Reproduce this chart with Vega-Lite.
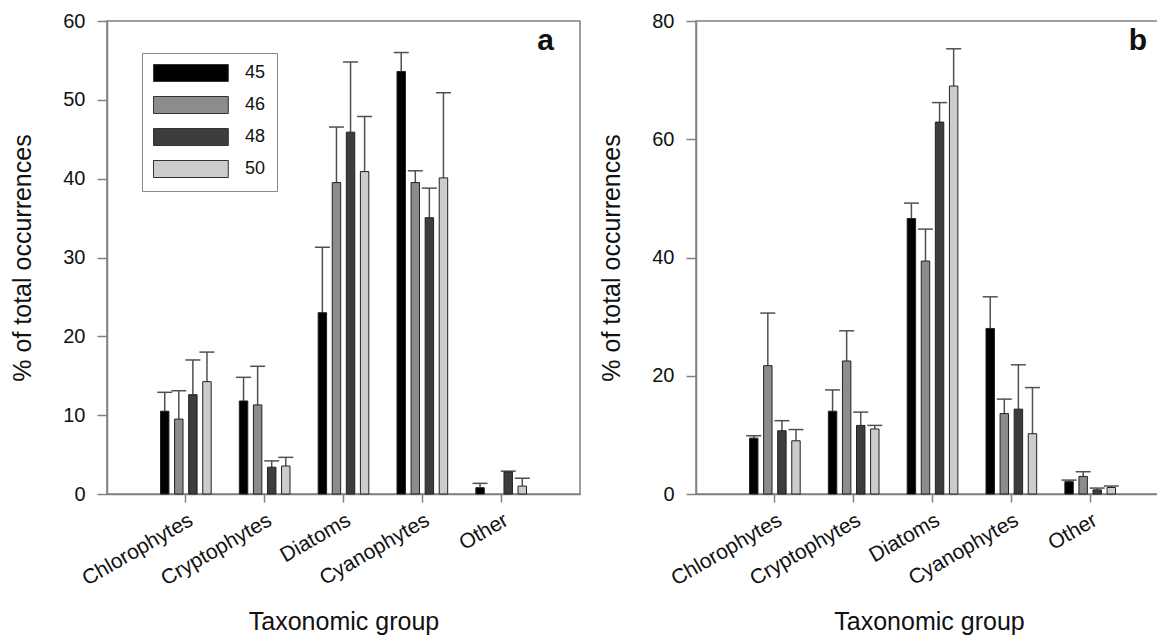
{
  "$schema": "https://vega.github.io/schema/vega-lite/v6.json",
  "padding": {"left": 10, "top": 10, "right": 0, "bottom": 0},
  "background": "white",
  "config": {
    "font": "Liberation Sans",
    "view": {"stroke": "#808080", "strokeWidth": 1.5},
    "axis": {"domainColor": "#808080", "domainWidth": 1.5, "tickColor": "#808080", "tickWidth": 1.5, "tickSize": 10, "labelFont": "Liberation Sans", "labelFontSize": 20, "labelColor": "#111111", "titleFont": "Liberation Sans", "titleFontSize": 25, "titleFontWeight": "normal", "titleColor": "#111111", "grid": false, "labelPadding": 12},
    "concat": {"spacing": 18}
  },
  "datasets": {
    "a": [
      {"group": "Chlorophytes", "series": "45", "value": 10.5, "upper": 12.9},
      {"group": "Chlorophytes", "series": "46", "value": 9.5, "upper": 13.1},
      {"group": "Chlorophytes", "series": "48", "value": 12.6, "upper": 17.0},
      {"group": "Chlorophytes", "series": "50", "value": 14.25, "upper": 18.0},
      {"group": "Cryptophytes", "series": "45", "value": 11.8, "upper": 14.8},
      {"group": "Cryptophytes", "series": "46", "value": 11.3, "upper": 16.2},
      {"group": "Cryptophytes", "series": "48", "value": 3.4, "upper": 4.2},
      {"group": "Cryptophytes", "series": "50", "value": 3.55, "upper": 4.65},
      {"group": "Diatoms", "series": "45", "value": 23.0, "upper": 31.3},
      {"group": "Diatoms", "series": "46", "value": 39.5, "upper": 46.55},
      {"group": "Diatoms", "series": "48", "value": 45.9, "upper": 54.8},
      {"group": "Diatoms", "series": "50", "value": 40.9, "upper": 47.9},
      {"group": "Cyanophytes", "series": "45", "value": 53.6, "upper": 56.0},
      {"group": "Cyanophytes", "series": "46", "value": 39.5, "upper": 41.0},
      {"group": "Cyanophytes", "series": "48", "value": 35.05, "upper": 38.8},
      {"group": "Cyanophytes", "series": "50", "value": 40.1, "upper": 50.9},
      {"group": "Other", "series": "45", "value": 0.8, "upper": 1.35},
      {"group": "Other", "series": "48", "value": 2.8, "upper": 2.9},
      {"group": "Other", "series": "50", "value": 1.0, "upper": 2.0}
    ],
    "b": [
      {"group": "Chlorophytes", "series": "45", "value": 9.45, "upper": 9.85},
      {"group": "Chlorophytes", "series": "46", "value": 21.7, "upper": 30.6},
      {"group": "Chlorophytes", "series": "48", "value": 10.7, "upper": 12.4},
      {"group": "Chlorophytes", "series": "50", "value": 9.0, "upper": 10.9},
      {"group": "Cryptophytes", "series": "45", "value": 14.0, "upper": 17.6},
      {"group": "Cryptophytes", "series": "46", "value": 22.5, "upper": 27.6},
      {"group": "Cryptophytes", "series": "48", "value": 11.6, "upper": 13.85},
      {"group": "Cryptophytes", "series": "50", "value": 11.0, "upper": 11.6},
      {"group": "Diatoms", "series": "45", "value": 46.6, "upper": 49.2},
      {"group": "Diatoms", "series": "46", "value": 39.4, "upper": 44.8},
      {"group": "Diatoms", "series": "48", "value": 62.9, "upper": 66.2},
      {"group": "Diatoms", "series": "50", "value": 69.0, "upper": 75.3},
      {"group": "Cyanophytes", "series": "45", "value": 28.0, "upper": 33.35},
      {"group": "Cyanophytes", "series": "46", "value": 13.6, "upper": 16.05},
      {"group": "Cyanophytes", "series": "48", "value": 14.35, "upper": 21.85},
      {"group": "Cyanophytes", "series": "50", "value": 10.2, "upper": 18.0},
      {"group": "Other", "series": "45", "value": 2.08, "upper": 2.35},
      {"group": "Other", "series": "46", "value": 2.97, "upper": 3.77},
      {"group": "Other", "series": "48", "value": 0.7, "upper": 1.0},
      {"group": "Other", "series": "50", "value": 1.1, "upper": 1.35}
    ]
  },
  "resolve": {"legend": {"color": "independent"}},
  "hconcat": [
    {
      "width": 473,
      "height": 473,
      "data": {"name": "a"},
      "title": {"text": "a", "anchor": "end", "fontSize": 30, "fontWeight": "bold", "color": "#111111", "offset": -45, "dx": -26},
      "encoding": {
        "x": {"field": "group", "type": "nominal", "sort": ["Chlorophytes", "Cryptophytes", "Diatoms", "Cyanophytes", "Other"], "scale": {"paddingInner": 0, "paddingOuter": 0.5}, "axis": {"title": "Taxonomic group", "labelAngle": -30, "labelFontSize": 21, "labelPadding": 7, "labelDx": -5, "tickSize": 8, "titlePadding": 20}},
        "xOffset": {"field": "series", "type": "nominal", "scale": {"domain": ["45", "46", "48", "50"], "paddingInner": 0.4, "paddingOuter": 1.49}},
        "y": {"field": "value", "type": "quantitative", "title": "% of total occurrences", "scale": {"domain": [0, 60], "nice": false}, "axis": {"values": [0, 10, 20, 30, 40, 50, 60], "titlePadding": 27}}
      },
      "layer": [
        {"mark": {"type": "rule", "color": "#505050", "strokeWidth": 1.5}, "encoding": {"y2": {"field": "upper"}}},
        {"mark": {"type": "tick", "color": "#505050", "size": 15, "thickness": 1.5, "opacity": 1}, "encoding": {"y": {"field": "upper", "type": "quantitative", "title": "% of total occurrences"}}},
        {"mark": {"type": "bar", "stroke": "#222222", "strokeWidth": 1}, "encoding": {
          "color": {"field": "series", "type": "nominal", "scale": {"domain": ["45", "46", "48", "50"], "range": ["#000000", "#8c8c8c", "#3d3d3d", "#cccccc"]},
            "legend": {"orient": "none", "legendX": 35, "legendY": 32, "title": null, "symbolType": "M-1,-1H7.8V1H-1Z", "symbolSize": 289, "symbolStrokeColor": "#333333", "symbolStrokeWidth": 1, "symbolOpacity": 1, "labelFontSize": 18, "labelColor": "#111111", "labelOffset": 74, "padding": 11, "strokeColor": "#888888", "fillColor": "white", "rowPadding": 10}}
        }}
      ]
    },
    {
      "width": 466,
      "height": 473,
      "data": {"name": "b"},
      "title": {"text": "b", "anchor": "end", "fontSize": 30, "fontWeight": "bold", "color": "#111111", "offset": -45, "dx": -15},
      "encoding": {
        "x": {"field": "group", "type": "nominal", "sort": ["Chlorophytes", "Cryptophytes", "Diatoms", "Cyanophytes", "Other"], "scale": {"paddingInner": 0, "paddingOuter": 0.4557, "align": 0.549}, "axis": {"title": "Taxonomic group", "labelAngle": -30, "labelFontSize": 21, "labelPadding": 7, "labelDx": -5, "tickSize": 8, "titlePadding": 20}},
        "xOffset": {"field": "series", "type": "nominal", "scale": {"domain": ["45", "46", "48", "50"], "paddingInner": 0.4, "paddingOuter": 1.49}},
        "y": {"field": "value", "type": "quantitative", "title": "% of total occurrences", "scale": {"domain": [0, 80], "nice": false}, "axis": {"values": [0, 20, 40, 60, 80], "titlePadding": 27}}
      },
      "layer": [
        {"mark": {"type": "rule", "color": "#505050", "strokeWidth": 1.5}, "encoding": {"y2": {"field": "upper"}}},
        {"mark": {"type": "tick", "color": "#505050", "size": 15, "thickness": 1.5, "opacity": 1}, "encoding": {"y": {"field": "upper", "type": "quantitative", "title": "% of total occurrences"}}},
        {"mark": {"type": "bar", "stroke": "#222222", "strokeWidth": 1}, "encoding": {
          "color": {"field": "series", "type": "nominal", "scale": {"domain": ["45", "46", "48", "50"], "range": ["#000000", "#8c8c8c", "#3d3d3d", "#cccccc"]}, "legend": null}
        }}
      ]
    }
  ]
}
